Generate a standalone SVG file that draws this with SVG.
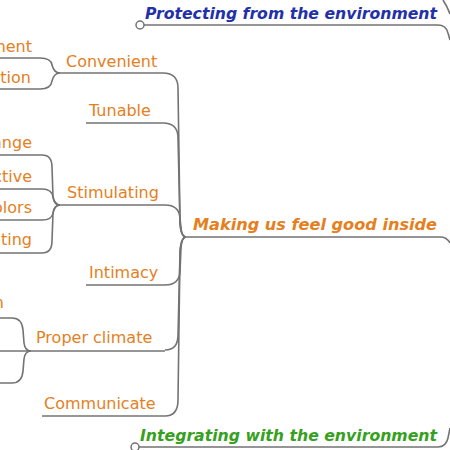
<svg xmlns="http://www.w3.org/2000/svg" width="450" height="450" viewBox="0 0 450 450">
<style>
text{font-family:"DejaVu Sans","Liberation Sans",sans-serif;font-size:16px;}
.o{fill:#e4801e;}
.main{font-weight:bold;font-style:italic;}
.blue{fill:#2331a8;}
.green{fill:#36a020;}
.end{text-anchor:end;}
.ln{fill:none;stroke:#737373;stroke-width:1.6;}
.dot{fill:#fff;stroke:#737373;stroke-width:1.5;}
</style>
<rect width="450" height="450" fill="#fff"/>
<g id="connectors">
  <path class="ln" d="M443,0 Q447,6 450,14"/>
  <path class="ln" d="M144,25 H438 Q446,25 448,33 L450,40"/>
  <path class="ln" d="M139,447 H438 Q446,447 448,438 L450,428"/>
  <path class="ln" d="M185,237 H440 Q447,237 450,243"/>
  <path class="ln" d="M163,73 Q178,73 178,88 L180,222 Q181,237 186,237"/>
  <path class="ln" d="M163,123 Q178,123 178,138 L180,224 Q181,237 186,237"/>
  <path class="ln" d="M165,205 Q179,205 180,218 L181,228 Q182,237 186,237"/>
  <path class="ln" d="M165,285 Q179,285 180,272 L181,248 Q182,237 186,237"/>
  <path class="ln" d="M165,350 Q178,350 178,335 L180,252 Q181,237 186,237"/>
  <path class="ln" d="M165,416 Q178,416 178,400 L180,252 Q181,237 186,237"/>
  <path class="ln" d="M60,73 H163"/>
  <path class="ln" d="M86,123 H163"/>
  <path class="ln" d="M60,205 H165"/>
  <path class="ln" d="M86,285 H165"/>
  <path class="ln" d="M0,351 H165"/>
  <path class="ln" d="M42,416 H165"/>
  <path class="ln" d="M0,58 H40 Q51,58 52,65 Q54,73 60,73"/>
  <path class="ln" d="M0,89 H40 Q51,89 52,81 Q54,73 60,73"/>
  <path class="ln" d="M0,155 H42 Q52,155 52,167 L53,197 Q54,205 60,205"/>
  <path class="ln" d="M0,189 H42 Q52,189 53,197 Q55,205 60,205"/>
  <path class="ln" d="M0,220 H42 Q52,220 53,213 Q55,205 60,205"/>
  <path class="ln" d="M0,253 H42 Q52,253 52,241 L53,213 Q54,205 60,205"/>
  <path class="ln" d="M0,318 H12 Q22,318 23,330 L24,343 Q25,351 31,351"/>
  <path class="ln" d="M0,383 H12 Q22,383 23,371 L24,359 Q25,351 31,351"/>
</g>
<g id="protecting"><circle class="dot" cx="140" cy="25" r="4"/><text class="main blue" x="145" y="19" textLength="292" lengthAdjust="spacingAndGlyphs">Protecting from the environment</text></g>
<g id="integrating"><circle class="dot" cx="135" cy="447" r="4"/><text class="main green" x="140" y="441" textLength="297" lengthAdjust="spacingAndGlyphs">Integrating with the environment</text></g>
<g id="making"><text class="main o" x="193" y="230" textLength="244" lengthAdjust="spacingAndGlyphs">Making us feel good inside</text></g>
<g id="convenient"><text class="o" x="66" y="67">Convenient</text></g>
<g id="tunable"><text class="o" x="89" y="116">Tunable</text></g>
<g id="stimulating"><text class="o" x="67" y="198">Stimulating</text></g>
<g id="intimacy"><text class="o" x="89" y="278">Intimacy</text></g>
<g id="proper-climate"><text class="o" x="36" y="343">Proper climate</text></g>
<g id="communicate"><text class="o" x="44" y="409">Communicate</text></g>
<g id="c1"><text class="o end" x="32" y="52">ment</text></g>
<g id="c2"><text class="o end" x="31" y="83">tion</text></g>
<g id="s1"><text class="o end" x="32" y="148">ange</text></g>
<g id="s2"><text class="o end" x="32" y="182">ctive</text></g>
<g id="s3"><text class="o end" x="32" y="213">olors</text></g>
<g id="s4"><text class="o end" x="32" y="245">ating</text></g>
<g id="p1"><text class="o end" x="4" y="308">n</text></g>
</svg>
